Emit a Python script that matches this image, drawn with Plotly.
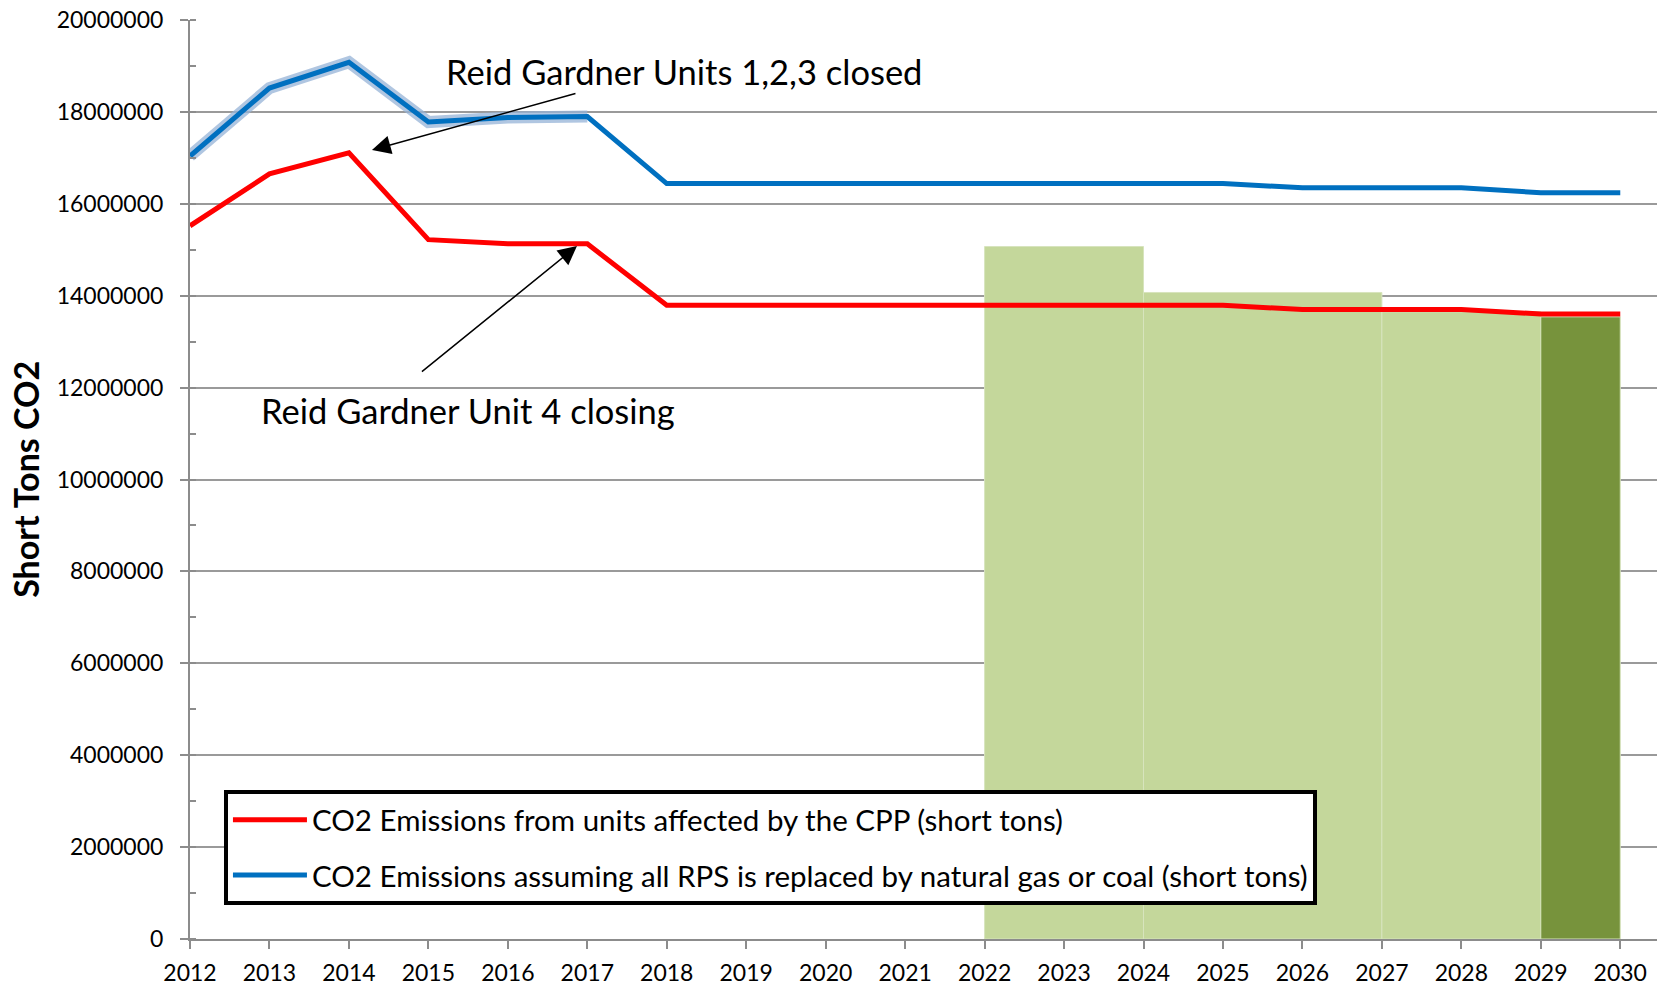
import plotly.graph_objects as go

years = list(range(2012, 2031))
cpp_units = [15520000, 16650000, 17110000, 15220000, 15130000, 15130000, 13790000,
             13790000, 13790000, 13790000, 13790000, 13790000, 13790000, 13790000,
             13700000, 13700000, 13700000, 13600000, 13600000]
rps_replaced = [17040000, 18520000, 19080000, 17780000, 17880000, 17900000, 16440000,
                16440000, 16440000, 16440000, 16440000, 16440000, 16440000, 16440000,
                16350000, 16350000, 16350000, 16240000, 16240000]

step_start = [2022, 2024, 2027, 2029]
step_end = [2024, 2027, 2029, 2030]
step_goal = [15070000, 14070000, 13650000, 13540000]
step_colors = ["#C4D79B", "#C4D79B", "#C4D79B", "#77933C"]

y_ticks = [0, 2000000, 4000000, 6000000, 8000000, 10000000,
           12000000, 14000000, 16000000, 18000000, 20000000]

glow_end_index = 6  # glow effect on 2012-2017 portion

FONT = "Lato"

fig = go.Figure()

fig.add_trace(go.Bar(
    x=step_start, y=step_goal,
    width=[e - s for s, e in zip(step_start, step_end)],
    offset=0,
    marker=dict(color=step_colors, line=dict(color="#D7E4BD", width=1)),
    showlegend=False, hoverinfo="skip",
))

fig.add_trace(go.Scatter(
    x=years[:glow_end_index], y=rps_replaced[:glow_end_index],
    mode="lines", line=dict(color="rgba(149,179,215,0.75)", width=12),
    showlegend=False, hoverinfo="skip",
))

fig.add_trace(go.Scatter(
    x=years, y=cpp_units, mode="lines",
    line=dict(color="#FF0000", width=5),
    name="CO2 Emissions from units affected by the CPP (short tons)",
    legendgroup="a",
))
fig.add_trace(go.Scatter(
    x=years, y=rps_replaced, mode="lines",
    line=dict(color="#0070C0", width=5),
    name="CO2 Emissions assuming all RPS is replaced by natural gas or coal (short tons)",
    legendgroup="b",
))

axis_gray = "#8C8C8C"
grid_gray = "#9A9A9A"

# page body has an 8px margin: figure is 1657x978 placed at (8, 8)
fig.update_layout(
    width=1657, height=978,
    margin=dict(l=182, r=5, t=12, b=47, autoexpand=False),
    paper_bgcolor="white", plot_bgcolor="white",
    font=dict(family=FONT, color="black", size=23),
    showlegend=True,
    legend=dict(
        x=0.0231, y=0.1621, xanchor="left", yanchor="top",
        bgcolor="white", bordercolor="black", borderwidth=4,
        font=dict(family=FONT, size=29.5, color="black"),
        traceorder="grouped", tracegroupgap=14,
        itemwidth=74,
    ),
    xaxis=dict(
        range=[2012, 2030.5], tickmode="array", tickvals=years,
        ticktext=[str(y) for y in years],
        ticks="outside", ticklen=8, tickcolor=axis_gray, tickwidth=1.5,
        showline=True, linecolor=axis_gray, linewidth=2,
        showgrid=False, zeroline=False, automargin=False,
        ticklabeloverflow="allow",
        tickfont=dict(family=FONT, size=23), ticklabelstandoff=4,
    ),
    xaxis2=dict(
        overlaying="x", anchor="y", side="bottom",
        range=[2012, 2030.5], tickmode="array", tickvals=years,
        ticks="inside", ticklen=8, tickcolor=axis_gray, tickwidth=1.5,
        showticklabels=False, showgrid=False, showline=False, zeroline=False,
        automargin=False,
    ),
    xaxis3=dict(
        overlaying="x", anchor="y", side="top",
        range=[2012, 2030.5], showticklabels=False, ticks="",
        showgrid=False, zeroline=False, automargin=False,
        showline=True, linecolor=grid_gray, linewidth=1.5,
    ),
    yaxis=dict(
        range=[0, 20000000], tickmode="array", tickvals=y_ticks,
        ticktext=[str(v) for v in y_ticks],
        ticks="outside", ticklen=8, tickcolor=axis_gray, tickwidth=1.5,
        minor=dict(dtick=1000000, ticks="inside", ticklen=6, tickcolor=axis_gray, tickwidth=1.5),
        showline=True, linecolor=axis_gray, linewidth=2,
        showgrid=True, gridcolor=grid_gray, gridwidth=1.5,
        zeroline=False, automargin=False, ticklabeloverflow="allow",
        tickfont=dict(family=FONT, size=23), ticklabelstandoff=12,
    ),
)

fig.add_annotation(
    text="Short Tons CO2", textangle=-90,
    xref="paper", yref="paper", x=-0.112, y=0.5,
    xanchor="center", yanchor="middle", showarrow=False,
    font=dict(family=FONT, size=34, color="black", weight="bold"),
)

fig.add_annotation(
    text="Reid Gardner Units 1,2,3 closed", x=2018.22, y=18890000,
    xref="x", yref="y", showarrow=False,
    font=dict(family=FONT, size=34.5, color="black"),
)
fig.add_annotation(
    text="Reid Gardner Unit 4 closing", x=2015.5, y=11510000,
    xref="x", yref="y", showarrow=False,
    font=dict(family=FONT, size=34.5, color="black"),
)

fig.add_annotation(
    text="", x=2014.29, y=17170000, ax=2016.87, ay=18410000,
    xref="x", yref="y", axref="x", ayref="y",
    showarrow=True, arrowhead=2, arrowsize=2.5, arrowwidth=1.5, arrowcolor="black",
    standoff=0,
)
fig.add_annotation(
    text="", x=2016.87, y=15080000, ax=2014.9, ay=12320000,
    xref="x", yref="y", axref="x", ayref="y",
    showarrow=True, arrowhead=2, arrowsize=2.5, arrowwidth=1.5, arrowcolor="black",
    standoff=0,
)

fig.write_html("out.html")
